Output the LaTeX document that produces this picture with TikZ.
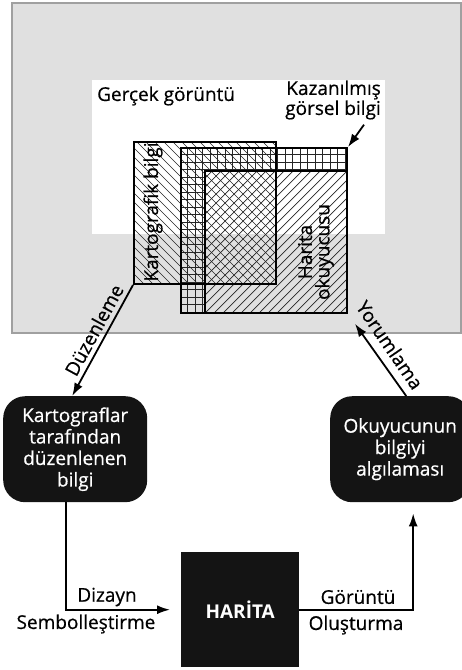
\documentclass[tikz,border=0pt]{standalone}
\usepackage{fontspec}
\setmainfont{Open Sans}[FakeBold=0.6]
\newfontface\mapbold{Open Sans Bold}
\usetikzlibrary{arrows.meta}
\definecolor{bgray}{HTML}{E0E0E0}
\definecolor{bline}{HTML}{A0A0A0}
\tikzset{
  arr/.style={line width=1.8pt,-{Latex[length=13pt,width=9pt]}},
  rectbox/.style={draw=black,line width=2pt,inner sep=0pt,anchor=north west},
  hatch/.style={line width=0.7pt,draw=black!85},
  blackbox/.style={fill=black!92,rounded corners=22pt,inner sep=0pt,anchor=north west,text=white,align=center,font=\fontsize{19}{21.5}\selectfont},
  lbl/.style={font=\fontsize{19}{20}\selectfont,inner sep=0pt}
}
\begin{document}
\begin{tikzpicture}[x=1pt,y=-1pt]
\useasboundingbox (0,0) rectangle (462,670);
% backgrounds
\filldraw[fill=bgray,draw=bline,line width=1.2pt] (12,3) rectangle (461,333);
\fill[white] (92,80) rectangle (385,234);
% Kartografik hatch (NW lines)
\begin{scope}
  \clip (133,141) rectangle (275,283);
  \foreach \i in {-150,-141,...,150} \draw[hatch] (133+\i,141) -- ++(160,160);
\end{scope}
% grid L-shape
\begin{scope}
  \clip (180,147) rectangle (204,312) (204,147) rectangle (346,170);
  \foreach \i in {180,187.5,...,350} \draw[hatch] (\i,147) -- (\i,312);
  \foreach \j in {147,154.5,...,315} \draw[hatch] (180,\j) -- (346,\j);
\end{scope}
% Harita hatch (NE lines)
\begin{scope}
  \clip (204,170) rectangle (346,312);
  \foreach \i in {0,9,...,300} \draw[hatch] (204+\i,170) -- ++(-160,160);
\end{scope}
% rectangles
\node[rectbox,minimum width=142pt,minimum height=142pt] (kart) at (133,141) {};
\node[rectbox,minimum width=166pt,minimum height=165pt] (grid) at (180,147) {};
\node[rectbox,minimum width=142pt,minimum height=142pt] (har) at (204,170) {};
% texts in top part
\node[lbl,anchor=west] (ger) at (97,96) {Gerçek görüntü};
\node[lbl,anchor=east,align=right] (kaz) at (381,100) {Kazanılmış\\görsel bilgi};
\node[lbl,rotate=90] (kbt) at (153,212) {Kartografik bilgi};
\node[lbl,rotate=90,align=center,font=\fontsize{19}{17.5}\selectfont] (hot) at (316,252) {Harita\\okuyucusu};
% bottom boxes
\node[blackbox,minimum width=144pt,minimum height=106pt] (kbox) at (3,396) {Kartograflar\\tarafından\\düzenlenen\\bilgi};
\node[blackbox,minimum width=140pt,minimum height=106pt] (obox) at (330,396) {Okuyucunun\\bilgiyi\\algılaması};
\node[fill=black!92,anchor=north west,minimum width=118pt,minimum height=115pt,inner sep=0pt,text=white,font=\fontsize{19}{20}\mapbold] (map) at (181,552) {HARİTA};
% connectors
\draw[arr] ([xshift=-17pt,yshift=-5pt]kaz.south east) -- (grid.north east);
\draw[arr] (kart.south west) -- ([xshift=-3pt]kbox.north);
\draw[arr,shorten >=12pt] ([xshift=6pt]obox.north) -- (har.south east);
\draw[arr,shorten >=11pt] ([xshift=-9pt]kbox.south) |- (map.west);
\draw[arr,shorten >=11pt] (map.east) -| ([xshift=13pt]obox.south);
% connector labels
\node[lbl,rotate=61.4] (dl) at (94,330) {Düzenleme};
\node[lbl,rotate=-55.6] (yl) at (390,345) {Yorumlama};
\node[lbl] (dz) at (107,597) {Dizayn};
\node[lbl] (sb) at (86,624) {Sembolleştirme};
\node[lbl] (gr) at (358,597) {Görüntü};
\node[lbl] (ol) at (356,625) {Oluşturma};
\end{tikzpicture}
\end{document}
